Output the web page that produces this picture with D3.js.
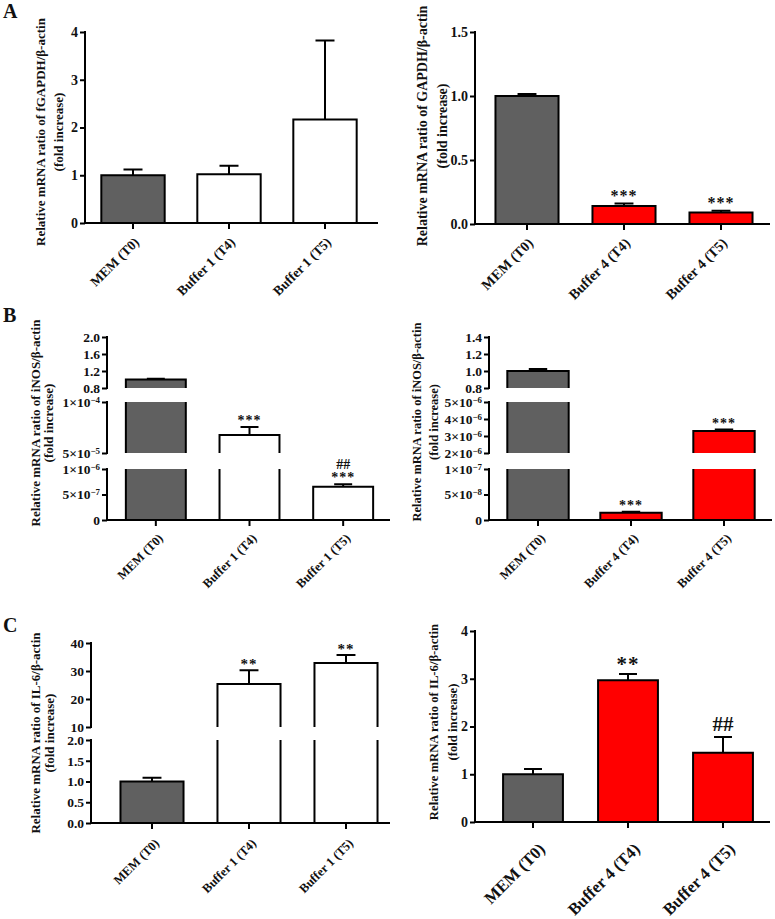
<!DOCTYPE html>
<html><head><meta charset="utf-8">
<script src="https://cdn.jsdelivr.net/npm/d3@7"></script>
<style>
body{margin:0;background:#fff}
text{font-family:"Liberation Serif","Times New Roman",serif;font-weight:bold;fill:#111}
</style>
</head><body>
<svg id="c" width="775" height="919"></svg>
<script>
// ---------- DATA ----------
const catsBuffer1 = ["MEM (T0)", "Buffer 1 (T4)", "Buffer 1 (T5)"];
const catsBuffer4 = ["MEM (T0)", "Buffer 4 (T4)", "Buffer 4 (T5)"];

const gapdhB1Values = [1.0, 1.02, 2.17];
const gapdhB1Err    = [0.12, 0.18, 1.65];
const gapdhB1Annot  = ["", "", ""];
const gapdhB1Ticks  = [[0, 1, 2, 3, 4]];
const gapdhB1Labels = [["0", "1", "2", "3", "4"]];

const gapdhB4Values = [1.0, 0.14, 0.09];
const gapdhB4Err    = [0.015, 0.02, 0.013];
const gapdhB4Annot  = ["", "***", "***"];
const gapdhB4Ticks  = [[0, 0.5, 1.0, 1.5]];
const gapdhB4Labels = [["0.0", "0.5", "1.0", "1.5"]];

const inosB1Values = [1.0, 6.76e-5, 6.5e-7];
const inosB1Err    = [0.02, 0.8e-5, 0.5e-7];
const inosB1Annot  = ["", "***", "##|***"];
const inosB1Ticks  = [[0, 5e-7, 1e-6], [5e-5, 1e-4], [0.8, 1.2, 1.6, 2.0]];
const inosB1Labels = [["0", "5×10^-7", "1×10^-6"], ["5×10^-5", "1×10^-4"], ["0.8", "1.2", "1.6", "2.0"]];

const inosB4Values = [1.0, 1.4e-8, 3.3e-6];
const inosB4Err    = [0.025, 0.2e-8, 0.08e-6];
const inosB4Annot  = ["", "***", "***"];
const inosB4Ticks  = [[0, 5e-8, 1e-7], [2e-6, 3e-6, 4e-6, 5e-6], [0.8, 1.0, 1.2, 1.4]];
const inosB4Labels = [["0", "5×10^-8", "1×10^-7"], ["2×10^-6", "3×10^-6", "4×10^-6", "5×10^-6"], ["0.8", "1.0", "1.2", "1.4"]];

const il6B1Values = [1.0, 25.4, 32.9];
const il6B1Err    = [0.09, 4.9, 2.8];
const il6B1Annot  = ["", "**", "**"];
const il6B1Ticks  = [[0, 0.5, 1.0, 1.5, 2.0], [10, 20, 30, 40]];
const il6B1Labels = [["0.0", "0.5", "1.0", "1.5", "2.0"], ["10", "20", "30", "40"]];

const il6B4Values = [1.0, 2.97, 1.45];
const il6B4Err    = [0.11, 0.13, 0.33];
const il6B4Annot  = ["", "**", "##"];
const il6B4Ticks  = [[0, 1, 2, 3, 4]];
const il6B4Labels = [["0", "1", "2", "3", "4"]];

const barColorsB1 = ["#606060", "#ffffff", "#ffffff"];
const barColorsB4 = ["#606060", "#ff0000", "#ff0000"];

// ---------- LAYOUT ----------
const svg = d3.select("#c");

const panels = [
  {cats: catsBuffer1, values: gapdhB1Values, errs: gapdhB1Err, annot: gapdhB1Annot, colors: barColorsB1,
   ticks: gapdhB1Ticks, labels: gapdhB1Labels, segRanges: [[223, 32]],
   axisX: 85, xEnd: 378, band: [85, 373], padIn: 0.34,
   title: ["Relative mRNA ratio of fGAPDH/β-actin", "(fold increase)"], titleX: [40, 58], titleY: 132, titleFs: 13,
   tickFs: 14, catFs: 13.5, catDx: 7, catDy: 20, annotFs: 15, starOff: 2.5, starColor: "#555"},
  {cats: catsBuffer4, values: gapdhB4Values, errs: gapdhB4Err, annot: gapdhB4Annot, colors: barColorsB4,
   ticks: gapdhB4Ticks, labels: gapdhB4Labels, segRanges: [[224, 32]],
   axisX: 475, xEnd: 770, band: [478.5, 769.5], padIn: 0.35,
   title: ["Relative mRNA ratio of GAPDH/β-actin", "(fold increase)"], titleX: [422, 442], titleY: 126, titleFs: 14,
   tickFs: 14, catFs: 14.3, catDx: 7, catDy: 20, annotFs: 16, starOff: 2.5, starColor: "#555"},
  {cats: catsBuffer1, values: inosB1Values, errs: inosB1Err, annot: inosB1Annot, colors: barColorsB1,
   ticks: inosB1Ticks, labels: inosB1Labels, segRanges: [[520, 469], [453, 402], [388, 337]],
   axisX: 107, xEnd: 390, band: [109, 390], padIn: 0.36,
   title: ["Relative mRNA ratio of iNOS/β-actin", "(fold increase)"], titleX: [35, 48], titleY: 423, titleFs: 13,
   tickFs: 13.5, catFs: 12.6, catDx: 8, catDy: 19, annotFs: 14, starOff: 2, starColor: "#555"},
  {cats: catsBuffer4, values: inosB4Values, errs: inosB4Err, annot: inosB4Annot, colors: barColorsB4,
   ticks: inosB4Ticks, labels: inosB4Labels, segRanges: [[520, 469], [453, 402], [388, 337]],
   axisX: 489, xEnd: 772, band: [491.5, 770.5], padIn: 0.34,
   title: ["Relative mRNA ratio of iNOS/β-actin", "(fold increase)"], titleX: [417, 434], titleY: 422, titleFs: 12.5,
   tickFs: 13.5, catFs: 12.6, catDx: 8, catDy: 19, annotFs: 14, starOff: 2, starColor: "#555"},
  {cats: catsBuffer1, values: il6B1Values, errs: il6B1Err, annot: il6B1Annot, colors: barColorsB1,
   ticks: il6B1Ticks, labels: il6B1Labels, segRanges: [[823, 740], [727, 643]],
   axisX: 91, xEnd: 390, band: [103.5, 394.5], padIn: 0.35,
   title: ["Relative mRNA ratio of IL-6/β-actin", "(fold increase)"], titleX: [35, 49], titleY: 733, titleFs: 13,
   tickFs: 13.5, catFs: 12.6, catDx: 8, catDy: 21, annotFs: 15, starOff: 1, starColor: "#555"},
  {cats: catsBuffer4, values: il6B4Values, errs: il6B4Err, annot: il6B4Annot, colors: barColorsB4,
   ticks: il6B4Ticks, labels: il6B4Labels, segRanges: [[822, 631]],
   axisX: 475, xEnd: 770, band: [485.5, 770.5], padIn: 0.37,
   title: ["Relative mRNA ratio of IL-6/β-actin", "(fold increase)"], titleX: [434, 453], titleY: 722, titleFs: 12.7,
   tickFs: 14, catFs: 16.8, catDx: 13, catDy: 28, annotFs: 21, starOff: 2.6, starColor: "#333"}
];

const panelLetters = [["A", 3, 18], ["B", 3, 322], ["C", 3, 632]];
panelLetters.forEach(([t, x, y]) =>
  svg.append("text").attr("x", x).attr("y", y).attr("font-size", 20).text(t));

function tickText(sel, label, fs) {
  const parts = label.split("^");
  sel.text(null);
  sel.append("tspan").text(parts[0]);
  if (parts.length > 1) {
    sel.append("tspan").attr("font-size", fs * 0.66).attr("dy", -fs * 0.32).text(parts[1].replace("-", "−"));
  }
}

panels.forEach(p => {
  const g = svg.append("g");
  const segs = p.ticks.map((tv, i) => {
    const dom = [tv[0], tv[tv.length - 1]];
    return {lo: dom[0], hi: dom[1], scale: d3.scaleLinear().domain(dom).range(p.segRanges[i]), ticks: tv, labels: p.labels[i]};
  });
  const x = d3.scaleBand().domain(p.cats).range(p.band).paddingInner(p.padIn).paddingOuter(p.padIn / 2);
  const bw = x.bandwidth();
  const baseY = segs[0].scale(segs[0].lo);

  // bars
  p.cats.forEach((c, i) => {
    const v = p.values[i];
    const x0 = x(c), x1 = x(c) + bw;
    segs.forEach((s, si) => {
      if (v <= s.lo && si > 0) return;
      const yTop = s.scale(Math.min(v, s.hi));
      const yBot = s.scale(s.lo);
      g.append("rect").attr("x", x0).attr("y", yTop).attr("width", bw).attr("height", yBot - yTop)
        .attr("fill", p.colors[i]);
      const path = d3.path();
      path.moveTo(x0, yBot); path.lineTo(x0, yTop);
      if (v <= s.hi) { path.lineTo(x1, yTop); } else { path.moveTo(x1, yTop); }
      path.lineTo(x1, yBot);
      g.append("path").attr("d", path.toString()).attr("fill", "none").attr("stroke", "#000")
        .attr("stroke-width", 2).attr("stroke-linejoin", "miter");
    });
    // error bar
    const s = segs.find(s => v >= s.lo && v <= s.hi) || segs[segs.length - 1];
    const yv = s.scale(v), ye = s.scale(v + p.errs[i]);
    const cx = x0 + bw / 2, cap = bw * 0.15;
    g.append("path").attr("d", `M${cx},${yv}V${ye}M${cx - cap},${ye}H${cx + cap}`)
      .attr("stroke", "#000").attr("stroke-width", 2).attr("fill", "none");
    // annotation
    if (p.annot[i]) {
      const lines = p.annot[i].split("|");
      let yy = ye;
      lines.reverse().forEach((t, li) => {
        const isStar = t.includes("*");
        let ty;
        if (isStar) { ty = yy - p.starOff; yy = ty - p.annotFs * 0.92; }
        else { ty = li === 0 ? yy - 6 : yy; yy = ty - p.annotFs * 0.8; }
        g.append("text").attr("x", cx).attr("y", ty)
          .attr("text-anchor", "middle").attr("font-size", p.annotFs)
          .attr("fill", isStar ? p.starColor : "#333").attr("font-weight", "normal")
          .attr("letter-spacing", isStar ? 1 : 0).text(t);
      });
    }
  });

  // y axes (one per segment)
  segs.forEach(s => {
    const ax = g.append("g").attr("transform", `translate(${p.axisX},0)`)
      .call(d3.axisLeft(s.scale).tickValues(s.ticks).tickSize(5).tickSizeOuter(0).tickPadding(2));
    ax.select(".domain").remove();
    ax.append("line").attr("x1", 0).attr("x2", 0).attr("y1", s.scale(s.lo) + 1).attr("y2", s.scale(s.hi) - 1)
      .attr("stroke", "#000").attr("stroke-width", 2);
    ax.selectAll(".tick line").attr("stroke", "#000").attr("stroke-width", 2);
    ax.selectAll(".tick text").each(function (d, k) {
      d3.select(this).attr("font-size", p.tickFs).attr("font-family", "Liberation Serif").attr("fill", "#111")
        .call(sel => tickText(sel, s.labels[k], p.tickFs));
    });
  });

  // x axis
  g.append("line").attr("x1", p.axisX - 1).attr("x2", p.xEnd).attr("y1", baseY).attr("y2", baseY)
    .attr("stroke", "#000").attr("stroke-width", 2);
  p.cats.forEach(c => {
    const cx = x(c) + bw / 2;
    g.append("line").attr("x1", cx).attr("x2", cx).attr("y1", baseY).attr("y2", baseY + 6)
      .attr("stroke", "#000").attr("stroke-width", 2);
    g.append("text").attr("text-anchor", "end").attr("font-size", p.catFs)
      .attr("transform", `translate(${cx + p.catDx},${baseY + p.catDy}) rotate(-45)`).text(c);
  });

  // y title
  p.title.forEach((t, k) => {
    g.append("text").attr("text-anchor", "middle").attr("font-size", p.titleFs).attr("dy", "0.35em")
      .attr("transform", `translate(${p.titleX[k]},${p.titleY}) rotate(-90)`).text(t);
  });
});
</script>
</body></html>
